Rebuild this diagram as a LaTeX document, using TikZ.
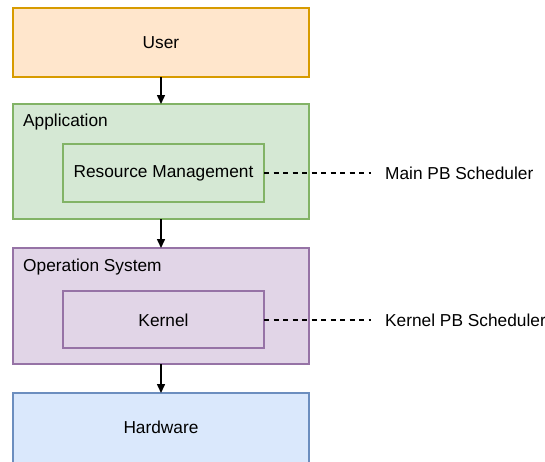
\documentclass[tikz,border=0pt]{standalone}
\usepackage{fontspec}
\setmainfont{Liberation Sans}
\usetikzlibrary{arrows.meta}
\definecolor{userfill}{HTML}{FFE6CC}\definecolor{userdraw}{HTML}{D79B00}
\definecolor{appfill}{HTML}{D5E8D4}\definecolor{appdraw}{HTML}{82B366}
\definecolor{osfill}{HTML}{E1D5E7}\definecolor{osdraw}{HTML}{9673A6}
\definecolor{hwfill}{HTML}{DAE8FC}\definecolor{hwdraw}{HTML}{6C8EBF}
\begin{document}
\begin{tikzpicture}[x=1pt,y=-1pt,
  lbl/.style={font=\fontsize{17.3}{20}\selectfont, inner sep=0pt},
  boxline/.style={line width=1.5pt},
  flow/.style={line width=1.5pt, -{Triangle[length=9pt,width=8pt]}},
  link/.style={line width=1.6pt, dash pattern=on 5pt off 4.5pt}]
\useasboundingbox (0,0) rectangle (545,461);
\clip (0,0) rectangle (545,461);
\fill[white] (0,0) rectangle (545,461);
% boxes
\draw[boxline, fill=userfill, draw=userdraw] (13,8) rectangle (309,77);
\node[lbl] (user) at (161,42.5) {User};
\coordinate (userS) at (161,77);
\draw[boxline, fill=appfill, draw=appdraw] (13,104) rectangle (309,219);
\coordinate (appN) at (161,104);
\coordinate (appS) at (161,219);
\node[lbl, anchor=west] (app) at (23,122) {Application};
\draw[boxline, fill=appfill, draw=appdraw] (63,144) rectangle (264,202);
\coordinate (rmE) at (264,173);
\node[lbl] (rm) at (163.5,173) {Resource Management};
\draw[boxline, fill=osfill, draw=osdraw] (13,248) rectangle (309,364);
\coordinate (osN) at (161,248);
\coordinate (osS) at (161,364);
\node[lbl, anchor=west] (os) at (23,267.5) {Operation System};
\draw[boxline, fill=osfill, draw=osdraw] (63,291) rectangle (264,348);
\coordinate (kE) at (264,320);
\node[lbl] (kernel) at (163.5,320) {Kernel};
\draw[boxline, fill=hwfill, draw=hwdraw] (13,393) rectangle (309,480);
\coordinate (hwN) at (161,393);
\node[lbl] (hw) at (161,427) {Hardware};
% arrows
\draw[flow] (userS) -- (appN);
\draw[flow] (appS) -- (osN);
\draw[flow] (osS) -- (hwN);
% side labels
\node[lbl, anchor=west] (mainpb) at (385,173) {Main PB Scheduler};
\node[lbl, anchor=west] (kernpb) at (385,320) {Kernel PB Scheduler};
\coordinate (mainEnd) at (371,173);
\coordinate (kernEnd) at (371,320);
\draw[link] (rmE) -- (mainEnd);
\draw[link] (kE) -- (kernEnd);
\end{tikzpicture}
\end{document}
